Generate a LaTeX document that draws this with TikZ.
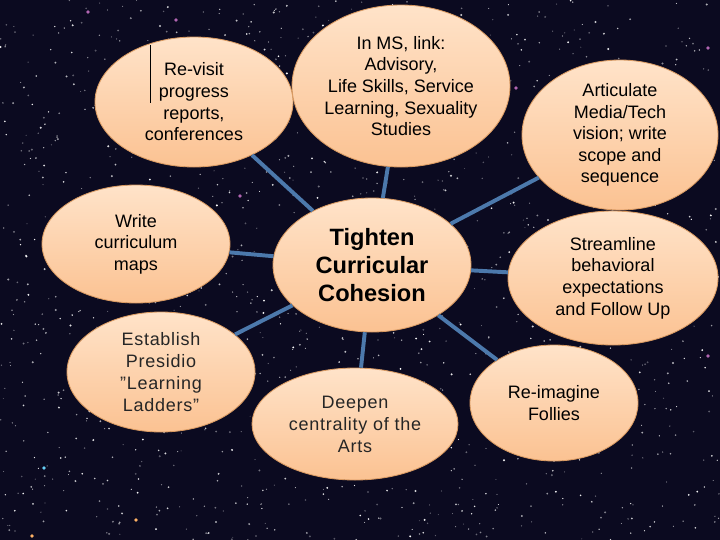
\documentclass[tikz,border=0pt]{standalone}
\usepackage{fontspec}
\setmainfont{Liberation Sans}
\newfontfamily\thinfont[LetterSpace=4]{Liberation Sans}
\usepackage{xcolor}
\usepackage{tikz}
\usetikzlibrary{shapes.geometric, positioning, calc}
\definecolor{skynight}{HTML}{0B0A20}
\definecolor{peachtop}{HTML}{FFE3C9}
\definecolor{peachmid}{HTML}{FFEDE0}
\definecolor{peachbot}{HTML}{FBC292}
\definecolor{peachedge}{HTML}{D99A62}
\definecolor{spokeblue}{HTML}{4C79AC}

\begin{document}
\begin{tikzpicture}[
    bubble/.style={ellipse, draw=peachedge, line width=0.6pt, top color=peachtop,
                   middle color=peachmid, bottom color=peachbot, inner sep=0pt,
                   align=center, font=\fontsize{12.8}{15.4}\selectfont,
                   minimum width=#1},
    bubble/.default=4.9cm,
    thinbubble/.style={bubble=#1, font=\fontsize{12.8}{15.6}\selectfont\thinfont, text=black!85},
    hub/.style={bubble=4.95cm, font=\fontsize{16.8}{20.1}\selectfont\bfseries},
    spoke/.style={spokeblue, line width=2.8pt}
]
    % Sky
    \useasboundingbox (0,0) rectangle (18,-13.5);
    \fill[skynight] (0,0) rectangle (18,-13.5);
    \pgfmathsetseed{7}
    \foreach \i in {1,...,1500}{
        \pgfmathsetmacro{\sx}{rnd*18}
        \pgfmathsetmacro{\sy}{-rnd*13.5}
        \pgfmathsetmacro{\sr}{0.012+0.016*rnd}
        \pgfmathsetmacro{\so}{0.3+0.7*rnd}
        \fill[white, opacity=\so] (\sx,\sy) circle (\sr);
    }
    \foreach \sx/\sy/\sc in {0.8/-13.4/orange, 3.4/-13.0/orange, 13.0/-11.3/violet,
                             5.7/-3.9/violet, 12.9/-2.2/violet, 17.7/-1.2/violet,
                             1.1/-11.7/cyan, 6.0/-4.9/violet, 17.7/-8.9/violet,
                             4.4/-0.5/violet, 2.2/-0.3/violet}{
        \fill[\sc!60!white] (\sx,\sy) circle (0.045);
    }

    % Hub
    \node[hub, minimum height=3.35cm] (tighten) at (9.3,-6.625) {Tighten\\Curricular\\Cohesion};

    % Outer ideas
    \node[bubble=4.95cm, minimum height=3.25cm] (revisit) at (4.85,-2.55)
        {Re-visit\\progress\\reports,\\conferences};
    \node[bubble=5.45cm, minimum height=4.05cm] (msink) at (10.025,-2.15)
        {In MS, link:\\Advisory,\\Life Skills, Service\\Learning, Sexuality\\Studies};
    \node[bubble=4.9cm, minimum height=3.75cm] (mediatech) at (15.5,-3.375)
        {Articulate\\Media/Tech\\vision; write\\scope and\\sequence};
    \node[bubble=4.7cm, minimum height=2.95cm] (maps) at (3.4,-6.1)
        {Write\\curriculum\\maps};
    \node[bubble=5.25cm, minimum height=3.35cm] (behavior) at (15.325,-6.95)
        {Streamline\\behavioral\\expectations\\and Follow Up};
    \node[thinbubble=4.7cm, minimum height=3.0cm] (ladders) at (4.025,-9.3)
        {Establish\\Presidio\\”Learning\\Ladders”};
    \node[thinbubble=5.15cm, minimum height=2.8cm] (arts) at (8.875,-10.6)
        {Deepen\\centrality of the\\Arts};
    \node[bubble=4.2cm, minimum height=2.9cm] (follies) at (13.85,-10.075)
        {Re-imagine\\Follies};

    % Spokes
    \foreach \idea in {revisit, msink, mediatech, maps, behavior, ladders, arts, follies}{
        \draw[spoke] (tighten) -- (\idea);
    }

    % Stray mark
    \draw[black, line width=0.6pt] (3.75,-1.12) -- (3.75,-2.58);
\end{tikzpicture}
\end{document}
